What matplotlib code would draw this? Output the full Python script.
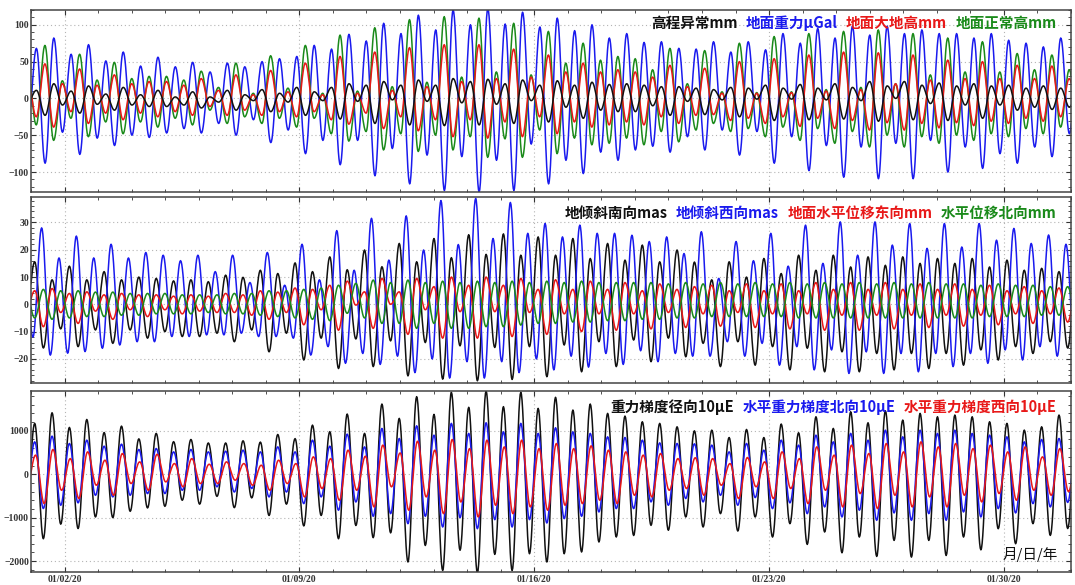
import numpy as np
import matplotlib
matplotlib.use('Agg')
import matplotlib.pyplot as plt
import matplotlib.dates as mdates
from matplotlib.offsetbox import TextArea, HPacker, AnchoredOffsetbox

# tidal effect time series, Jan 2020 (one value per high / low water)
# hi[i] is a high, lo[i] is the low just before it; times follow the
# semidiurnal period, half-cosine between extremes like a tide table.
PERIOD = 0.5175     # days
T_FIRST = 0.11      # first high of the radial gradient, days after 01/01/20

# ---- panel 1 : height anomaly / gravity / ellipsoidal height / normal height
grav_hi = [68, 82, 60, 73, 51, 63, 44, 56, 43, 49, 36, 48, 43, 50, 54, 57, 72, 67, 87,
           78, 102, 88, 113, 93, 120, 100, 122, 101,
           117, 97, 109, 92, 100, 82, 88, 76, 77, 68, 67,
           77, 63, 77, 66, 88, 75, 95, 82, 98, 86, 98, 88, 93, 88, 88, 82, 88, 79, 75, 70, 82, 75]
grav_lo = [-40, -88, -46, -76, -54, -64, -50, -53, -47, -41, -47, -34, -50, -29, -60, -43, -75, -57, -90, -57,
           -105, -68, -116, -77, -125, -79, -127, -84, -125,
           -62, -116, -84, -102, -73, -84, -70, -65, -73, -52, -70,
           -43, -77, -45, -88, -52, -98, -64, -107, -66, -109, -61, -109, -57, -100, -66, -95, -75, -88, -66, -79, -48]
anom_hi = [11, 20, 10, 17, 6, 15, 5, 11, 2, 9, 2, 11, 5, 12, 7, 15, 9, 15, 20,
           18, 23, 18, 25, 18, 27, 23, 26, 20,
           25, 18, 24, 18, 22, 19, 20, 18, 16, 16, 14,
           12, 15, 14, 18, 14, 19, 14, 20, 15, 23, 17, 23, 18, 21, 17, 20, 17, 18, 14, 17, 14, 15]
anom_lo = [-5, -23, -9, -20, -8, -16, -9, -11, -11, -9, -13, -5, -16, -3, -18, -5, -23, -3, -28, -4,
           -34, -2, -36, -4, -37, -6, -36, -8, -34,
           -3, -32, -12, -27, -16, -18, -18, -10, -23, -4, -22,
           -2, -25, -1, -30, -1, -29, -2, -28, -3, -31, 0, -29, -7, -30, -9, -27, -9, -16, -12, -15, -12]
normal_hi = [40, 72, 24, 60, 25, 49, 27, 30, 30, 25, 37, 15, 48, 7, 58, 14, 72, 7, 86, 10,
             96, 16, 107, 22, 111, 29, 109, 36, 102,
             32, 91, 48, 75, 52, 57, 54, 39, 68, 20, 65,
             9, 75, 8, 84, 9, 88, 12, 91, 15, 93, 20, 88, 32, 82, 36, 77, 36, 61, 39, 59, 39]
normal_lo = [-40, -36, -57, -27, -52, -32, -48, -32, -39, -27, -36, -16, -34, -25, -34, -27, -39, -27, -48, -58,
             -45, -70, -48, -72, -50, -70, -52, -80, -55,
             -80, -43, -75, -54, -63, -61, -54, -63, -45, -59, -43,
             -34, -45, -41, -52, -39, -57, -41, -61, -45, -66, -50, -66, -52, -61, -50, -57, -48, -52, -41, -48, -39, -40]
ellip_hi = [25, 47, 20, 40, 18, 32, 20, 23, 23, 18, 27, 11, 32, 5, 38, 9, 48, 5, 57, 7,
            63, 11, 69, 16, 73, 23, 73, 27, 67,
            29, 59, 36, 48, 36, 39, 36, 29, 45, 16, 41,
            7, 50, 7, 54, 8, 59, 10, 63, 12, 62, 20, 59, 25, 52, 27, 50, 27, 45, 27, 44, 27]
ellip_lo = [-25, -25, -39, -18, -34, -20, -29, -20, -25, -18, -23, -11, -23, -16, -23, -18, -25, -18, -29, -35,
            -20, -41, -25, -44, -29, -52, -29, -54, -32,
            -52, -25, -48, -32, -39, -36, -32, -36, -25, -34, -23,
            -22, -30, -27, -34, -25, -38, -27, -41, -30, -43, -33, -43, -34, -40, -33, -37, -31, -34, -27, -31, -25, -25]

# ---- panel 2 : tilt S / tilt W / horizontal displacement E / N
tilt_s_hi = [15.6, 9, 14, 9, 12, 9, 10, 9.5, 8.6, 9, 8.3, 10.7, 9.9, 12.5, 11.3, 15.2, 12, 17.4, 12.7,
             19.9, 13.8, 22.3, 15.6, 24.1, 17.1, 25.5, 18.3, 25.8, 18, 24.7, 18, 24.1, 16.8, 22.3, 16.2, 21.7, 15.6, 19.9, 15.5,
             9, 15.6, 10, 16.8, 11.3, 18, 12.5, 18, 13.7, 17.4, 14.3, 17.4, 15, 16.8, 15, 16.8, 13.7, 16.2, 12.5, 13.2, 12, 12]
tilt_s_lo = [-5, -16, -9, -15.5, -9.4, -14.3, -9.4, -12.4, -10, -11.8, -11.8, -10.6, -13.7, -9.4, -17.4, -10.6, -20.4, -12.4, -23.5, -12.7,
             -22.8, -13.4, -26.2, -14, -27.4, -15.2, -28, -15.8, -27.5, -15.5, -26.5, -14.9, -24.7, -13.7, -22.8, -13.1, -21, -12.4, -19.2,
             -14.3, -22.8, -13.7, -22.3, -15.5, -24, -16.1, -24.7, -17.4, -24.7, -18, -24, -18, -23.5, -18, -22.3, -16.7, -20.4, -15.5, -18, -13.7, -16]
tilt_w_hi = [15, 28, 17, 25, 17, 22, 17, 19, 18, 16, 18, 12, 18, 8, 19, 7, 22, 9, 27, 12.5,
             31.5, 16.2, 32.4, 19.9, 38, 21.9, 38.8, 24.1, 37.3,
             26, 29.6, 24.7, 29, 26, 26, 25.3, 23, 24.7, 18.6, 26.6,
             9.5, 23, 16, 26, 14, 29, 15, 30.2, 18, 30.2, 21.7, 29.6, 20.5, 29.6, 21, 29.6, 23.5, 27.8, 22.3, 25.4, 22]
tilt_w_lo = [-10, -12, -18.6, -17.9, -17.3, -16.1, -14.9, -13.7, -13.7, -11.8, -11.8, -11.2, -11.2, -10.6, -11.8, -11.8, -12.4, -18.6, -15.5, -21.6, -18,
             -22, -19, -25, -20, -27, -21, -27, -21, -25, -20, -24, -19, -23, -18, -22, -17, -21, -18, -19,
             -19, -13.7, -19, -14.3, -22.3, -15.5, -24, -16.7, -25.3, -17.4, -25.3, -18, -24.7, -18, -22.8, -18, -21.6, -16.7, -20.4, -15.5, -19, -16]
east_hi = [5, 5.8, 4, 4.6, 3.5, 4, 3.5, 3.5, 3, 3.5, 3, 4, 3.5, 5, 4.5, 6, 5.5, 7, 8.5,
           4.6, 9.5, 4.6, 9.5, 6.5, 10, 7, 10, 7, 9.5,
           5.5, 9, 5.5, 8.5, 5.5, 8, 5, 7.5, 5.5, 6.5,
           7, 5, 7.5, 5, 7.5, 5, 8, 5.5, 8, 5.5, 8, 5.5, 7.5, 5.5, 7.5, 5.5, 7, 5, 6.5, 5, 6, 6]
east_lo = [-3, -8.2, -3, -7, -2.5, -5.5, -2, -4.5, -2, -3.5, -2.5, -3, -3, -4, -5.5, -3, -7.5, -2, -9.5,
           -0.3, -8.8, 0, -11, -2, -12.4, -2.7, -12.4, -2.7, -11.8,
           -3, -11, -3.5, -10, -3.5, -9.5, -3.5, -9, -3, -8.5, -3.5, -8, -3, -8.5, -3.5, -9, -3.5, -9.5, -4, -9.5, -4, -9,
           -4, -8.5, -4, -8, -4, -7.5, -3.5, -7, -3.5, -6.5]
north_hi = [5, 5.5, 5, 5, 4.5, 4.5, 4, 4, 4, 3.5, 3.5, 3.5, 4, 4, 5, 5, 5.5, 6,
            7, 7.7, 8.9, 8, 8.9, 8, 8.5, 8, 8.5, 8, 8.5,
            8, 8.5, 8, 8.5, 8, 8, 8, 8, 7.5, 8, 7.5, 8, 7.5, 8, 7.5, 8, 7.5, 8, 7.5, 8, 7.5, 8,
            7.5, 8, 7.5, 7.5, 7, 7.5, 7, 7, 6.5, 6.5]
north_lo = [-4, -5, -5.5, -5, -4.5, -4.5, -4, -4, -3.5, -3.5, -3.5, -3, -3.5, -3.5, -4, -4.5, -5, -5.5, -6,
            -3.3, -5, -7, -7, -8.8, -7, -8.8, -8.8, -8.2, -8.2, -7.6,
            -7, -7, -6.5, -6.5, -6, -6, -5.5, -5.5, -5, -5, -4.5, -4.5, -4.5, -4.5, -4.5, -5,
            -5, -5, -5, -5, -5, -5, -5, -5, -5, -5, -4.5, -4.5, -4.5, -4, -4, -4]

# ---- panel 3 : gravity gradient radial / north / west (10 uE)
grad_r_hi = [1170, 1415, 1077, 1260, 960, 1108, 815, 940, 750, 800, 720, 720, 770, 740, 915, 820, 1130, 980, 1385,
             940, 1615, 1285, 1785, 1377, 1885, 1540, 1915, 1555, 1885, 1515, 1770, 1477, 1615, 1400, 1338, 1208, 1170, 1092, 1000,
             1015, 845, 1030, 845, 1155, 955, 1323, 1054, 1438, 1185, 1460, 1246, 1400, 1323, 1362, 1323, 1208, 1170, 1015, 1092, 1362, 1100]
grad_r_lo = [-1000, -1485, -1150, -1250, -985, -1000, -855, -777, -740, -600, -690, -510, -770, -545, -950, -690, -1190, -950, -1485, -1180,
             -1460, -1350, -2020, -1640, -2215, -1750, -2275, -1845, -2215, -1830, -2020, -1830, -1790, -1560, -1445, -1410, -1177, -1290, -985,
             -1215, -908, -1308, -985, -1446, -1138, -1615, -1330, -1808, -1446, -1892, -1523, -1908, -1523, -1870, -1446, -1740, -1254, -1600, -1138, -1408, -1250]
grad_n_hi = [746, 877, 708, 785, 646, 692, 570, 592, 515, 570, 515, 530, 554, 515, 630, 515, 785, 646, 923,
             630, 1054, 823, 1115, 900, 1170, 940, 1185, 977, 1170, 940, 1070, 977, 940, 862, 846, 785, 723, 708, 700,
             670, 515, 708, 554, 785, 670, 900, 746, 940, 785, 1015, 862, 1015, 940, 1015, 940, 900, 862, 746, 800, 823, 750]
grad_n_lo = [-550, -790, -715, -660, -485, -523, -485, -446, -446, -370, -370, -290, -410, -330, -523, -410, -677, -523, -830, -640,
             -970, -908, -1138, -970, -1215, -1000, -1254, -1046, -1215, -1046, -1123, -1023, -970, -870, -792, -792, -638, -715, -560,
             -638, -485, -715, -538, -792, -660, -908, -754, -985, -830, -1062, -892, -1062, -908, -1062, -870, -985, -792, -892, -677, -754, -650]
grad_w_hi = [440, 570, 360, 515, 323, 477, 285, 460, 246, 360, 230, 285, 246, 208, 323, 246, 400, 360, 554,
             415, 670, 490, 760, 554, 800, 590, 785, 630, 785, 590, 708, 590, 654, 554, 515, 440, 477, 360, 380,
             360, 246, 385, 285, 515, 360, 630, 440, 670, 477, 708, 515, 746, 630, 708, 590, 670, 515, 630, 400, 590, 450]
grad_w_lo = [-300, -677, -370, -560, -254, -485, -215, -370, -177, -290, -215, -215, -138, -254, -370, -215, -523, -330, -600, -370,
             -754, -290, -830, -523, -908, -640, -985, -715, -908, -754, -830, -715, -677, -600, -677, -485, -523, -370, -330,
             -485, -254, -560, -290, -560, -330, -677, -370, -754, -446, -792, -485, -754, -523, -754, -485, -638, -446, -600, -370, -485, -400]

BLACK, BLUE, RED, GREEN = '#111111', '#1a1aee', '#e81818', '#1a8a1a'
CJK = ['Noto Sans CJK SC', 'DejaVu Sans']
plt.rcParams['font.family'] = ['Liberation Serif', 'DejaVu Serif']

START = mdates.date2num(np.datetime64('2020-01-01'))


def tide(lo, hi, phase):
    ext = np.empty(len(lo) + len(hi))
    ext[0::2] = lo
    ext[1::2] = hi
    t_ext = T_FIRST + (phase - 0.5) * PERIOD + np.arange(len(ext)) * PERIOD / 2
    s = np.linspace(0, 1, 14, endpoint=False)
    w = (1 - np.cos(np.pi * s)) / 2
    t = (t_ext[:-1, None] + s[None, :] * PERIOD / 2).ravel()
    v = (ext[:-1, None] + np.diff(ext)[:, None] * w[None, :]).ravel()
    return START + t, v


fig = plt.figure(figsize=(10.75, 5.85), dpi=100)
L, W = 31 / 1075, 1040 / 1075
axes = [fig.add_axes([L, 1 - 192 / 585, W, 182 / 585]),
        fig.add_axes([L, 1 - 383 / 585, W, 186 / 585]),
        fig.add_axes([L, 1 - 572 / 585, W, 181 / 585])]

panels = [
    [(grav_lo, grav_hi, 0.1, BLUE), (normal_lo, normal_hi, -0.41, GREEN),
     (ellip_lo, ellip_hi, -0.41, RED), (anom_lo, anom_hi, 0.1, BLACK)],
    [(tilt_s_lo, tilt_s_hi, 0.0, BLACK), (tilt_w_lo, tilt_w_hi, -0.6, BLUE),
     (east_lo, east_hi, 0.0, RED), (north_lo, north_hi, -0.5, GREEN)],
    [(grad_r_lo, grad_r_hi, 0.0, BLACK), (grad_n_lo, grad_n_hi, 0.0, BLUE),
     (grad_w_lo, grad_w_hi, 0.05, RED)],
]
ylims = [(-127, 120), (-28.8, 39.3), (-2250, 1915)]
yticks = [[-100, -50, 0, 50, 100], [-20, -10, 0, 10, 20, 30], [-2000, -1000, 0, 1000]]
yminor = [10, 2, 200]
legends = [
    [('高程异常mm', BLACK), ('地面重力μGal', BLUE), ('地面大地高mm', RED), ('地面正常高mm', GREEN)],
    [('地倾斜南向mas', BLACK), ('地倾斜西向mas', BLUE), ('地面水平位移东向mm', RED), ('水平位移北向mm', GREEN)],
    [('重力梯度径向10μE', BLACK), ('水平重力梯度北向10μE', BLUE), ('水平重力梯度西向10μE', RED)],
]
leg_y = [0.975, 0.955, 0.955]

for i, ax in enumerate(axes):
    for lo, hi, ph, col in panels[i]:
        t, v = tide(lo, hi, ph)
        ax.plot(t, v, color=col, lw=1.1)
    ax.set_xlim(START, START + 31)
    ax.set_ylim(*ylims[i])
    ax.set_yticks(yticks[i])
    ax.yaxis.set_minor_locator(plt.MultipleLocator(yminor[i]))
    ax.xaxis.set_major_locator(mdates.DayLocator(bymonthday=[2, 9, 16, 23, 30]))
    ax.xaxis.set_minor_locator(mdates.DayLocator())
    ax.xaxis.set_major_formatter(mdates.DateFormatter('%m/%d/%y'))
    ax.grid(True, which='major', color='#b4b4b4', ls=(0, (1, 2.5)), lw=0.8)
    ax.tick_params(which='both', direction='in', top=True, right=True, labelsize=7,
                   colors='#333333', pad=1.5)
    ax.tick_params(which='major', length=3.5)
    ax.tick_params(which='minor', length=2)
    for sp in ax.spines.values():
        sp.set_color('#444444')
        sp.set_linewidth(1.1)
    for lbl in ax.get_yticklabels():
        lbl.set_fontweight('bold')
    if i < 2:
        ax.tick_params(labelbottom=False)
    else:
        for lbl in ax.get_xticklabels():
            lbl.set_fontweight('bold')
            lbl.set_fontsize(7)
        ax.tick_params(axis='x', pad=2)

    parts = [TextArea(txt, textprops=dict(color=c, fontsize=10.5, fontweight='bold', family=CJK))
             for txt, c in legends[i]]
    box = HPacker(children=parts, align='baseline', pad=0, sep=6)
    anc = AnchoredOffsetbox(loc='upper right', child=box, pad=0, borderpad=0, frameon=False,
                            bbox_to_anchor=(0.986, leg_y[i]), bbox_transform=ax.transAxes)
    ax.add_artist(anc)

axes[2].text(0.987, 0.055, '月/日/年', transform=axes[2].transAxes, ha='right', va='bottom',
             fontsize=10.5, family=CJK, color=BLACK)

fig.savefig('out.png', dpi=100)
